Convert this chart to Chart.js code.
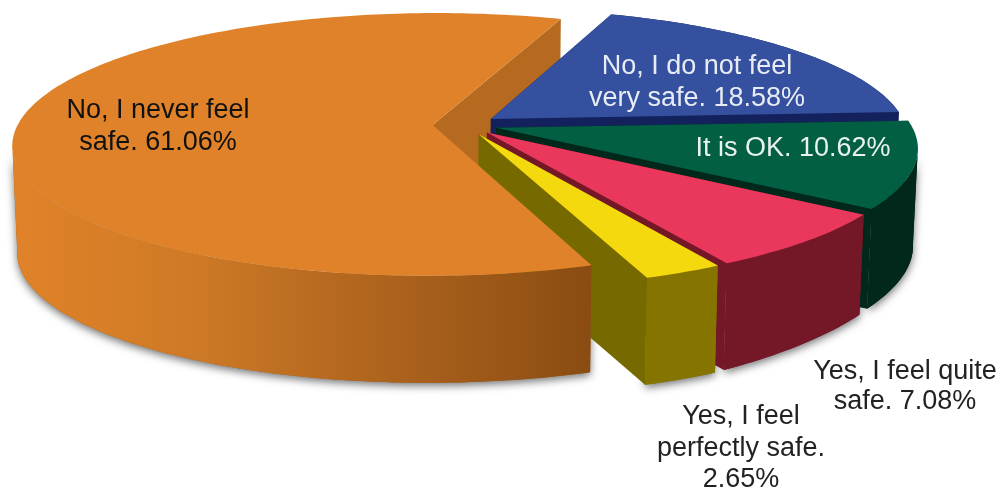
<!DOCTYPE html>
<html lang="en">
<head>
    <meta charset="UTF-8">
    <title>Do you feel safe?</title>
    <script src="https://cdn.jsdelivr.net/npm/chart.js"></script>
    <style>
        body {
            margin: 0;
            background-color: #fff;
        }
        canvas {
            display: block;
        }
    </style>
</head>
<body>
    <canvas id="myChart" width="1000" height="488"></canvas>

    <script>
        const categories = ['No, I never feel safe.', 'No, I do not feel very safe.', 'It is OK.', 'Yes, I feel quite safe.', 'Yes, I feel perfectly safe.'];
        const values = [61.06, 18.58, 10.62, 7.08, 2.65];
        const labelLines = [
            ['No, I never feel', 'safe. 61.06%'],
            ['No, I do not feel', 'very safe. 18.58%'],
            ['It is OK. 10.62%'],
            ['Yes, I feel quite', 'safe. 7.08%'],
            ['Yes, I feel', 'perfectly safe.', '2.65%']
        ];
        const topColors = ['#e08229', '#34509f', '#025f43', '#ea375c', '#f5d90f'];
        const sideColors = ['#b56a1f', '#13225c', '#01281a', '#741827', '#766900'];
        const outerColors = ['#a8601c', '#13225c', '#01281a', '#741827', '#857400'];
        const labelColors = ['#111', '#e8ecf5', '#e8f2ee', '#222', '#222'];
        // label anchor: centre x, first baseline, line height
        const labelPos = [[158, 118, 32], [697, 74, 32], [793, 156, 32], [905, 379, 30], [741, 424, 31.5]];

        // perspective of the tilted disc
        const CX = 465, CY = 125;
        const W = 415, H = 128.5, K = 0.148;
        const EXPLODE = 0.078;

        function project(u, v, lower) {
            const den = 1 - K * v;
            let x = W * u / den;
            let y = H * v / den;
            if (lower) {
                // the lower rim is a bit narrower and a bit thinner on the right
                const depth = 107 - Math.max(0, CX + x - 720) * 0.048;
                x *= 0.989;
                y += depth;
            }
            return [CX + x, CY + y];
        }

        // points of the rim between two angles, for one slice
        function rim(arc, from, to, lower) {
            const mid = (arc.startAngle + arc.endAngle) / 2;
            const pts = [];
            const steps = Math.max(2, Math.ceil(Math.abs(to - from) / 0.02));
            for (let i = 0; i <= steps; i++) {
                const a = from + (to - from) * i / steps;
                pts.push(project(EXPLODE * Math.cos(mid) + Math.cos(a), EXPLODE * Math.sin(mid) + Math.sin(a), lower));
            }
            return pts;
        }

        function tip(arc, lower) {
            const mid = (arc.startAngle + arc.endAngle) / 2;
            return project(EXPLODE * Math.cos(mid), EXPLODE * Math.sin(mid), lower);
        }

        function fillPoly(ctx, pts, color) {
            ctx.beginPath();
            pts.forEach((p, i) => i ? ctx.lineTo(p[0], p[1]) : ctx.moveTo(p[0], p[1]));
            ctx.closePath();
            ctx.fillStyle = color;
            ctx.fill();
        }

        function outerWall(ctx, arc, color) {
            // outer walls only show between the right and left silhouette points
            const right = Math.PI * 2 + Math.asin(K);
            const left = Math.PI - Math.asin(K);
            const from = arc.startAngle < right && arc.endAngle > right ? right : arc.startAngle;
            const to = arc.startAngle < left && arc.endAngle > left ? left : arc.endAngle;
            fillPoly(ctx, rim(arc, from, to, false).concat(rim(arc, to, from, true)), color);
        }

        function sideWall(ctx, arc, angle, color) {
            const top = rim(arc, angle, angle, false)[0];
            const low = rim(arc, angle, angle, true)[0];
            fillPoly(ctx, [tip(arc, false), top, low, tip(arc, true)], color);
        }

        function topFace(ctx, arc, color) {
            fillPoly(ctx, [tip(arc, false)].concat(rim(arc, arc.startAngle, arc.endAngle, false)), color);
        }

        // draws the slices the doughnut controller laid out, as a 3D pie
        const pie3d = {
            id: 'pie3d',
            beforeDatasetsDraw(chart) {
                const ctx = chart.ctx;
                const arcs = chart.getDatasetMeta(0).data;
                const orange = arcs[0];

                const orangeSide = ctx.createLinearGradient(15, 0, 590, 0);
                orangeSide.addColorStop(0, '#e08229');
                orangeSide.addColorStop(0.3, '#cf7a26');
                orangeSide.addColorStop(0.7, '#a8601c');
                orangeSide.addColorStop(1, '#8a4c12');

                // soft shadow under the outer walls
                ctx.save();
                ctx.shadowColor = 'rgba(0,0,0,0.55)';
                ctx.shadowBlur = 8;
                ctx.shadowOffsetY = 3;
                arcs.forEach((arc, i) => {
                    if (i !== 1) outerWall(ctx, arc, outerColors[i]);
                });
                ctx.restore();

                // inner wall of the big slice, seen in the gap behind the blue one
                sideWall(ctx, orange, orange.endAngle, sideColors[0]);

                arcs.slice(1).forEach((arc, i) => {
                    const n = i + 1;
                    sideWall(ctx, arc, arc.startAngle, outerColors[n]);
                    sideWall(ctx, arc, arc.endAngle, sideColors[n]);
                    outerWall(ctx, arc, outerColors[n]);
                    topFace(ctx, arc, topColors[n]);
                });

                // the big slice sits in front of the yellow wall
                outerWall(ctx, orange, orangeSide);
                topFace(ctx, orange, topColors[0]);

                return false;
            },
            afterDraw(chart) {
                const ctx = chart.ctx;
                ctx.save();
                ctx.font = '27px "Liberation Sans", Arial, sans-serif';
                ctx.textAlign = 'center';
                ctx.textBaseline = 'alphabetic';
                labelLines.forEach((lines, i) => {
                    ctx.fillStyle = labelColors[i];
                    lines.forEach((line, j) => {
                        ctx.fillText(line, labelPos[i][0], labelPos[i][1] + j * labelPos[i][2]);
                    });
                });
                ctx.restore();
            }
        };

        new Chart(document.getElementById('myChart').getContext('2d'), {
            type: 'pie',
            data: {
                labels: categories,
                datasets: [{
                    data: values,
                    backgroundColor: topColors,
                    borderWidth: 0
                }]
            },
            options: {
                responsive: false,
                animation: false,
                rotation: 160.1,
                plugins: {
                    legend: { display: false },
                    tooltip: { enabled: false }
                }
            },
            plugins: [pie3d]
        });
    </script>
</body>
</html>
